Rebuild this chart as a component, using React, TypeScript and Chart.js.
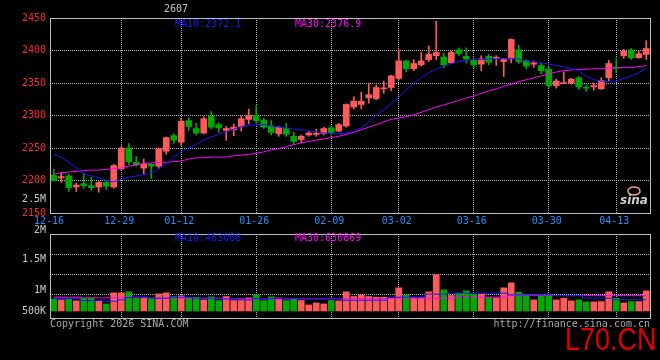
import React, { useEffect, useRef } from 'react';
import { Chart, registerables } from 'chart.js';

Chart.register(...registerables);

// ---------- data ----------
const DATES = [
  '12-16','12-17','12-18','12-19','12-22','12-23','12-24','12-25','12-26','12-29',
  '12-30','12-31','01-05','01-06','01-07','01-08','01-09','01-12','01-13','01-14',
  '01-15','01-16','01-19','01-20','01-21','01-22','01-23','01-26','01-27','01-28',
  '01-29','01-30','02-02','02-03','02-04','02-05','02-06','02-09','02-10','02-11',
  '02-12','02-13','02-24','02-25','02-26','02-27','03-02','03-03','03-04','03-05',
  '03-06','03-09','03-10','03-11','03-12','03-13','03-16','03-17','03-18','03-19',
  '03-20','03-23','03-24','03-25','03-26','03-27','03-30','03-31','04-01','04-02',
  '04-03','04-07','04-08','04-09','04-10','04-13','04-14','04-15','04-16','04-17',
];
const DATE_TICKS = ['12-16','12-29','01-12','01-26','02-09','03-02','03-16','03-30','04-13'];

const OPEN = [
  2208,2204,2207,2190,2195,2192,2190,2197,2190,2218,
  2250,2228,2219,2225,2222,2245,2269,2259,2292,2280,
  2273,2299,2286,2277,2278,2283,2294,2300,2293,2284,
  2272,2280,2268,2263,2270,2271,2272,2281,2276,2284,
  2313,2317,2327,2326,2341,2343,2357,2384,2372,2378,
  2386,2392,2390,2381,2401,2391,2385,2379,2391,2388,
  2383,2387,2401,2384,2379,2377,2371,2346,2349,2350,
  2358,2343,2344,2341,2358,2374,2392,2401,2389,2394,
];
const HIGH = [
  2217,2212,2210,2196,2211,2205,2198,2200,2225,2251,
  2257,2237,2233,2226,2250,2267,2272,2296,2297,2288,
  2298,2306,2289,2283,2287,2299,2310,2315,2296,2292,
  2283,2288,2274,2270,2276,2279,2282,2284,2288,2318,
  2329,2336,2350,2347,2353,2362,2401,2385,2386,2397,
  2407,2445,2396,2399,2404,2404,2386,2392,2394,2392,
  2388,2418,2408,2386,2384,2381,2374,2356,2367,2357,
  2360,2347,2350,2358,2385,2388,2402,2403,2399,2415,
];
const LOW = [
  2199,2197,2183,2183,2188,2185,2182,2186,2188,2216,
  2224,2222,2210,2203,2219,2240,2257,2254,2277,2270,
  2272,2279,2274,2262,2269,2276,2287,2288,2280,2270,
  2268,2268,2255,2258,2268,2268,2270,2270,2275,2282,
  2310,2310,2319,2324,2334,2338,2355,2367,2369,2376,
  2383,2386,2373,2380,2392,2381,2374,2369,2378,2377,
  2360,2381,2380,2372,2374,2364,2343,2342,2349,2348,
  2340,2337,2339,2340,2353,2366,2388,2386,2388,2386,
];
const CLOSE = [
  2200,2206,2189,2193,2192,2189,2197,2191,2223,2250,
  2229,2224,2225,2222,2249,2266,2262,2291,2283,2273,
  2295,2282,2281,2280,2282,2295,2300,2292,2282,2274,
  2282,2271,2260,2268,2273,2272,2280,2274,2286,2317,
  2322,2322,2332,2343,2342,2361,2384,2372,2380,2384,
  2394,2397,2378,2397,2395,2387,2378,2387,2382,2389,
  2386,2417,2383,2376,2381,2369,2346,2353,2350,2356,
  2344,2342,2346,2354,2380,2373,2399,2389,2395,2403,
];
const MA10 = [
  2241,2236,2228,2219,2210,2207,2204,2200,2198,2202,
  2205,2207,2209,2211,2218,2226,2236,2244,2250,2256,
  2262,2267,2271,2275,2279,2283,2285,2286,2286,2284,
  2282,2281,2279,2278,2276,2275,2273,2272,2272,2273,
  2276,2281,2290,2300,2309,2318,2328,2339,2350,2358,
  2366,2371,2376,2380,2383,2385,2386,2386,2387,2387,
  2388,2388,2387,2384,2383,2381,2379,2377,2375,2372,
  2369,2360,2355,2353,2352,2353,2357,2361,2366,2372,
];
const MA30 = [
  2210,2212,2213,2214,2215,2216,2216,2217,2218,2219,
  2222,2224,2226,2227,2228,2228,2229,2230,2233,2235,
  2235,2236,2236,2236,2238,2239,2240,2242,2244,2247,
  2249,2252,2255,2258,2260,2262,2264,2266,2268,2271,
  2274,2278,2282,2286,2290,2294,2296,2298,2301,2305,
  2309,2313,2316,2320,2323,2327,2330,2334,2338,2341,
  2345,2348,2352,2355,2358,2361,2364,2367,2369,2370,
  2371,2371,2372,2372,2373,2373,2374,2374,2375,2377,
];
const VOLUME = [
  483000,455400,496800,414000,524400,524400,414000,289800,745200,745200,
  786600,524400,524400,524400,703800,745200,593400,621000,565800,565800,
  455400,579600,427800,593400,427800,469200,538200,662400,427800,579600,
  538200,427800,524400,427800,248400,331200,289800,427800,414000,786600,
  593400,662400,593400,565800,565800,524400,952200,662400,565800,565800,
  786600,1490400,869400,634800,731400,828000,690000,690000,565800,524400,
  952200,1159200,772800,690000,455400,634800,690000,455400,524400,414000,
  455400,372600,372600,386400,786600,524400,331200,386400,386400,828000,
];
const VOL_MA10 = [
  510600,510600,510600,510600,427800,427800,427800,386400,400200,455400,
  552000,552000,552000,524400,524400,524400,565800,565800,565800,524400,
  524400,524400,496800,496800,496800,455400,455400,510600,510600,510600,
  510600,510600,510600,510600,510600,510600,510600,510600,510600,441600,
  441600,441600,441600,441600,441600,565800,565800,565800,565800,565800,
  690000,690000,690000,731400,731400,731400,731400,731400,731400,731400,
  731400,662400,662400,662400,662400,662400,662400,634800,634800,634800,
  634800,524400,524400,524400,524400,463008,463008,463008,463008,463008,
];
const VOL_MA30 = [
  565800,565800,565800,565800,538200,538200,538200,538200,538200,538200,
  565800,565800,565800,524400,524400,524400,524400,524400,524400,524400,
  524400,524400,524400,496800,496800,496800,496800,496800,496800,496800,
  496800,496800,496800,496800,496800,496800,496800,496800,496800,496800,
  510600,510600,510600,510600,510600,524400,524400,524400,524400,524400,
  524400,524400,524400,524400,565800,565800,565800,565800,565800,565800,
  565800,630869,630869,630869,630869,630869,630869,630869,630869,630869,
  630869,630869,630869,630869,630869,630869,630869,630869,630869,630869,
];

const PRICE_MIN = 2150;
const PRICE_MAX = 2450;
const PRICE_STEP = 50;
const VOL_MIN = -289800;
const VOL_MAX = 3167100;
const VOL_GRID = [662400, 1490400, 2318400];
const VOL_LABELS = ['2.5M', '2M', '1.5M', '1M', '500K'];
const VOL_LABEL_AT = [4595400, 3312000, 2111400, 828000, 0];

const TITLE = '2607';
const PRICE_MA_TEXT = ['MA10:2372.1', 'MA30:2376.9'];
const VOL_MA_TEXT = ['MA10:463008', 'MA30:630869'];
const COPYRIGHT = 'Copyright 2026 SINA.COM';
const URL_TEXT = 'http://finance.sina.com.cn';
const WATERMARK = 'L70.CN';

// ---------- styles ----------
const UP = '#ff5a5a';
const DOWN = '#00a800';
const GRID = '#b4b4b4';
const FRAME = '#c0c0c0';
const MA10C = '#1818ff';
const MA30C = '#ff00ff';
const PRICE_LABEL = '#ff2a2a';
const DATE_LABEL = '#1e90ff';
const GRAY = '#c8c8c8';
const MONO = '"DejaVu Sans Mono", monospace';

export default function App() {
  const topRef = useRef<HTMLCanvasElement>(null);
  const botRef = useRef<HTMLCanvasElement>(null);

  useEffect(() => {
    const colors = CLOSE.map((c, i) => (c >= OPEN[i] ? UP : DOWN));
    const font = { family: MONO, size: 10 };
    const mono = '10px ' + MONO;

    const framePlugin = {
      id: 'frame',
      afterDraw(chart: any) {
        const { ctx, chartArea: a } = chart;
        ctx.save();
        ctx.strokeStyle = FRAME;
        ctx.lineWidth = 1;
        ctx.strokeRect(a.left + 0.5, a.top + 0.5, a.right - a.left, a.bottom - a.top);
        ctx.restore();
      },
    };

    const xGridColor = (c: any) => (c.tick && c.tick.value === 0 ? 'rgba(0,0,0,0)' : GRID);
    const filterDates = (s: any) => {
      s.ticks = s.ticks.filter((t: any) => DATE_TICKS.includes(DATES[t.value]));
    };

    const topText = {
      id: 'topText',
      afterDraw(chart: any) {
        const { ctx, chartArea: a } = chart;
        const xs = chart.scales.x;
        ctx.save();
        ctx.font = mono;
        // date labels under the price panel (first one starts just left of the frame)
        ctx.textBaseline = 'middle';
        ctx.textAlign = 'center';
        ctx.fillStyle = DATE_LABEL;
        xs.ticks.forEach((t: any, k: number) => {
          const x = k === 0 ? a.left - 1 : xs.getPixelForValue(t.value) - 2;
          ctx.fillText(DATES[t.value], x, a.bottom + 8);
        });
        ctx.textAlign = 'left';
        ctx.fillStyle = MA10C;
        ctx.fillText(PRICE_MA_TEXT[0], 175, 24);
        ctx.fillStyle = MA30C;
        ctx.fillText(PRICE_MA_TEXT[1], 295, 24);
        ctx.fillStyle = GRAY;
        ctx.textAlign = 'center';
        ctx.fillText(TITLE, 176, 9);
        // sina logo
        ctx.strokeStyle = '#f29a9a';
        ctx.lineWidth = 1.5;
        ctx.beginPath();
        ctx.ellipse(634, 191, 6, 4, 0, 0, Math.PI * 2);
        ctx.stroke();
        ctx.fillStyle = '#d0d0d0';
        ctx.font = 'italic bold 12px "DejaVu Sans"';
        ctx.textAlign = 'left';
        ctx.textBaseline = 'alphabetic';
        ctx.fillText('sina', 620, 204);
        ctx.restore();
      },
    };

    const botText = {
      id: 'botText',
      afterDraw(chart: any) {
        const { ctx } = chart;
        const ys = chart.scales.y;
        ctx.save();
        ctx.font = mono;
        ctx.textBaseline = 'middle';
        ctx.textAlign = 'right';
        ctx.fillStyle = GRAY;
        VOL_LABELS.forEach((t, i) => ctx.fillText(t, ys.right - 4, ys.getPixelForValue(VOL_LABEL_AT[i])));
        ctx.textAlign = 'left';
        ctx.fillStyle = MA10C;
        ctx.fillText(VOL_MA_TEXT[0], 175, 238);
        ctx.fillStyle = MA30C;
        ctx.fillText(VOL_MA_TEXT[1], 295, 238);
        ctx.fillStyle = '#a8a8a8';
        ctx.fillText(COPYRIGHT, 50, 324);
        ctx.textAlign = 'right';
        ctx.fillText(URL_TEXT, 650, 324);
        ctx.textAlign = 'left';
        ctx.textBaseline = 'alphabetic';
        ctx.fillStyle = '#e00000';
        ctx.font = '31px "Liberation Sans", Arial, sans-serif';
        ctx.translate(565, 350);
        ctx.scale(0.87, 1);
        ctx.fillText(WATERMARK, 0, 0);
        ctx.restore();
      },
    };

    const common = {
      responsive: false,
      animation: false as const,
      devicePixelRatio: 1,
      events: [] as any[],
      plugins: { legend: { display: false }, tooltip: { enabled: false } },
    };

    const top = new Chart(topRef.current as HTMLCanvasElement, {
      type: 'bar',
      data: {
        labels: DATES,
        datasets: [
          { type: 'line', data: MA10, borderColor: MA10C, borderWidth: 1, pointRadius: 0, fill: false, order: 0 } as any,
          { type: 'line', data: MA30, borderColor: MA30C, borderWidth: 1, pointRadius: 0, fill: false, order: 0 } as any,
          { data: LOW.map((l, i) => [l, HIGH[i]]), backgroundColor: colors, barThickness: 1, grouped: false, order: 2 } as any,
          { data: OPEN.map((o, i) => [o, CLOSE[i]]), backgroundColor: colors, barThickness: 6, grouped: false, minBarLength: 1, order: 1 } as any,
        ],
      },
      options: {
        ...common,
        layout: { padding: { top: 18, right: 10, bottom: 128, left: 0 } },
        scales: {
          x: {
            offset: true,
            grid: { offset: false, color: xGridColor, drawTicks: false, lineWidth: 1 },
            border: { display: false, dash: [1, 1] },
            ticks: { display: false, autoSkip: false, font },
            afterBuildTicks: filterDates,
            afterFit: (s: any) => { s.height = 19; },
          },
          y: {
            min: PRICE_MIN,
            max: PRICE_MAX,
            beginAtZero: false,
            ticks: { stepSize: PRICE_STEP, color: PRICE_LABEL, font, padding: 4, callback: (v: any) => String(v) },
            grid: { color: GRID, drawTicks: false, lineWidth: 1 },
            border: { display: false, dash: [1, 1] },
            afterFit: (s: any) => { s.width = 50; },
          },
        },
      } as any,
      plugins: [framePlugin, topText],
    });

    const bot = new Chart(botRef.current as HTMLCanvasElement, {
      type: 'bar',
      data: {
        labels: DATES,
        datasets: [
          { type: 'line', data: VOL_MA10, borderColor: MA10C, borderWidth: 1, pointRadius: 0, stepped: 'middle', fill: false, order: 0 } as any,
          { type: 'line', data: VOL_MA30, borderColor: MA30C, borderWidth: 1, pointRadius: 0, stepped: 'middle', fill: false, order: 0 } as any,
          { data: VOLUME, backgroundColor: colors, barThickness: 6, grouped: false, order: 1 } as any,
        ],
      },
      options: {
        ...common,
        layout: { padding: { top: 234, right: 10, bottom: 42, left: 0 } },
        scales: {
          x: {
            offset: true,
            grid: { offset: false, color: xGridColor, drawTicks: false, lineWidth: 1 },
            border: { display: false, dash: [1, 1] },
            ticks: { display: false, autoSkip: false },
            afterBuildTicks: filterDates,
            afterFit: (s: any) => { s.height = 0; },
          },
          y: {
            min: VOL_MIN,
            max: VOL_MAX,
            beginAtZero: false,
            ticks: { display: false },
            grid: { color: GRID, drawTicks: false, lineWidth: 1 },
            border: { display: false, dash: [1, 1] },
            afterBuildTicks: (s: any) => { s.ticks = VOL_GRID.map((v) => ({ value: v })); },
            afterFit: (s: any) => { s.width = 50; },
          },
        },
      } as any,
      plugins: [framePlugin, botText],
    });

    return () => {
      top.destroy();
      bot.destroy();
    };
  }, []);

  return (
    <div style={{ position: 'fixed', left: 0, top: 0, width: 660, height: 360, background: '#000', overflow: 'hidden' }}>
      <canvas ref={topRef} width={660} height={360} style={{ position: 'absolute', left: 0, top: 0 }} />
      <canvas ref={botRef} width={660} height={360} style={{ position: 'absolute', left: 0, top: 0 }} />
    </div>
  );
}
